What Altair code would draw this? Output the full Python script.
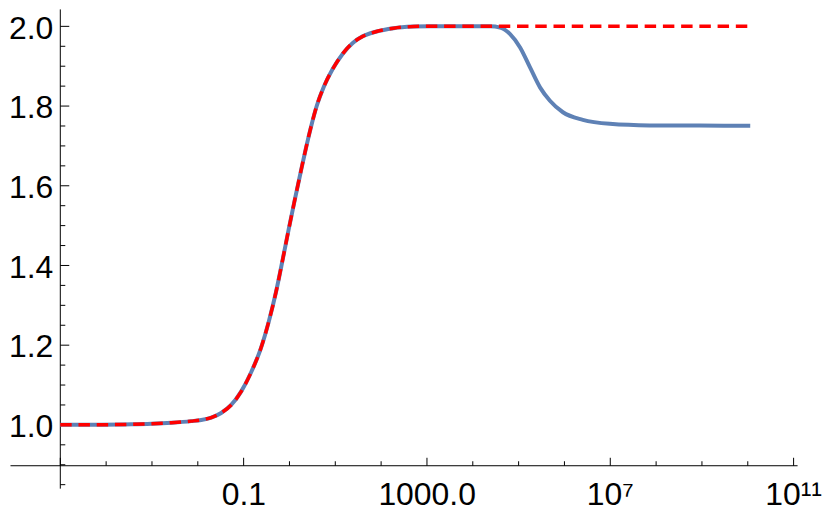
import altair as alt
import pandas as pd

# ---- data (x given as log10 exponent) ----
LOG_X = [-5.0, -4.101, -3.448, -3.009, -2.573, -2.138, -1.921, -1.703, -1.486, -1.268,
         -1.051, -0.834, -0.616, -0.442, -0.289, -0.137, -0.007, 0.124, 0.254, 0.363,
         0.472, 0.603, 0.755, 0.951, 1.169, 1.386, 1.604, 1.886, 2.278, 2.713,
         3.082, 3.735, 4.387, 4.605, 4.822, 5.040, 5.257, 5.475, 5.692, 5.975,
         6.410, 6.997, 7.867, 8.955, 10.065]
BLUE_Y = [1.0, 1.0, 1.001, 1.0025, 1.005, 1.009, 1.012, 1.018, 1.0295, 1.0495,
          1.083, 1.131, 1.193, 1.261, 1.333, 1.418, 1.493, 1.566, 1.636, 1.693,
          1.746, 1.801, 1.848, 1.893, 1.931, 1.958, 1.9745, 1.986, 1.995, 1.999,
          2.0, 2.0, 2.0, 1.9965, 1.98, 1.9465, 1.8965, 1.8465, 1.813, 1.784,
          1.765, 1.755, 1.751, 1.7505, 1.75]
RED_Y = [1.0, 1.0, 1.001, 1.0025, 1.005, 1.009, 1.012, 1.018, 1.0295, 1.0495,
         1.083, 1.131, 1.193, 1.261, 1.333, 1.418, 1.493, 1.566, 1.636, 1.693,
         1.746, 1.801, 1.848, 1.893, 1.931, 1.958, 1.9745, 1.986, 1.995, 1.999,
         2.0, 2.0, 2.0, 2.0, 2.0, 2.0, 2.0, 2.0, 2.0, 2.0,
         2.0, 2.0, 2.0, 2.0, 2.0]

X_MAJOR_EXP = [-5, -1, 3, 7, 11]
X_MINOR_EXP = [-4, -3, -2, 0, 1, 2, 4, 5, 6, 8, 9, 10]
X_LABEL_EXP = [-1, 3, 7, 11]
X_LABELS = ["0.1", "1000.0", "10\u2077", "10\u00b9\u00b9"]

Y_MAJOR = [1.0, 1.2, 1.4, 1.6, 1.8, 2.0]
Y_MINOR = [0.85, 0.9, 0.95, 1.05, 1.1, 1.15, 1.25, 1.3, 1.35, 1.45, 1.5, 1.55,
           1.65, 1.7, 1.75, 1.85, 1.9, 1.95]

W, H = 790, 481
X_DOMAIN = [10 ** -6.097, 10 ** 11.088]
Y_DOMAIN = [0.8408, 2.0433]
FONT = "Liberation Sans"
FS = 32

df = pd.DataFrame({"x": [10 ** e for e in LOG_X], "blue": BLUE_Y, "red": RED_Y})

xs = alt.Scale(type="log", domain=X_DOMAIN, nice=False)
ys = alt.Scale(type="linear", domain=Y_DOMAIN, nice=False, zero=False)

label_expr = " : ".join(
    f"round(log(datum.value)/LN10) == {e} ? '{lab}'" for e, lab in zip(X_LABEL_EXP, X_LABELS)
) + " : ''"

base = alt.Chart(df)

blue = base.mark_line(color="#5E81B5", strokeWidth=4, interpolate="monotone").encode(
    x=alt.X("x:Q", scale=xs, axis=alt.Axis(
        orient="bottom", offset=-23, values=[10.0 ** e for e in X_LABEL_EXP],
        labelExpr=label_expr, title=None, ticks=False, tickSize=0,
        domain=True, domainColor="black", domainWidth=1, grid=False,
        labelFont=FONT, labelFontSize=FS, labelColor="black", labelPadding=14,
        labelFlush=False, labelOverlap=False)),
    y=alt.Y("blue:Q", scale=ys, axis=alt.Axis(
        orient="left", offset=-50, values=Y_MAJOR, format=".1f", title=None,
        ticks=False, tickSize=0, domain=True, domainColor="black", domainWidth=1,
        grid=False, labelFont=FONT, labelFontSize=FS, labelColor="black",
        labelPadding=7, labelOffset=2, labelFlush=False, labelOverlap=False)),
)

red = base.mark_line(color="#FF0000", strokeWidth=3.5, strokeDash=[11.5, 6.8],
                     interpolate="monotone").encode(
    x=alt.X("x:Q", scale=xs, axis=alt.Axis(
        orient="top", offset=-458, values=[10.0 ** e for e in X_MAJOR_EXP],
        labels=False, title=None, domain=False, grid=False, ticks=True,
        tickSize=8, tickColor="black", tickWidth=1)),
    y=alt.Y("red:Q", scale=ys, axis=alt.Axis(
        orient="right", offset=-740, values=Y_MAJOR, labels=False, title=None,
        domain=False, grid=False, ticks=True, tickSize=9, tickColor="black",
        tickWidth=1)),
)

minor = base.mark_line(strokeOpacity=0).encode(
    x=alt.X("x:Q", scale=xs, axis=alt.Axis(
        orient="top", offset=-458, values=[10.0 ** e for e in X_MINOR_EXP],
        labels=False, title=None, domain=False, grid=False, ticks=True,
        tickSize=4.5, tickColor="black", tickWidth=1)),
    y=alt.Y("blue:Q", scale=ys, axis=alt.Axis(
        orient="right", offset=-740, values=Y_MINOR, labels=False, title=None,
        domain=False, grid=False, ticks=True, tickSize=5, tickColor="black",
        tickWidth=1)),
)

chart = (
    alt.layer(blue, red, minor)
    .resolve_axis(x="independent", y="independent")
    .properties(width=W, height=H, padding=0)
    .configure_view(strokeWidth=0)
)

chart.save("out.html", embed_options={"renderer": "svg", "actions": False})
